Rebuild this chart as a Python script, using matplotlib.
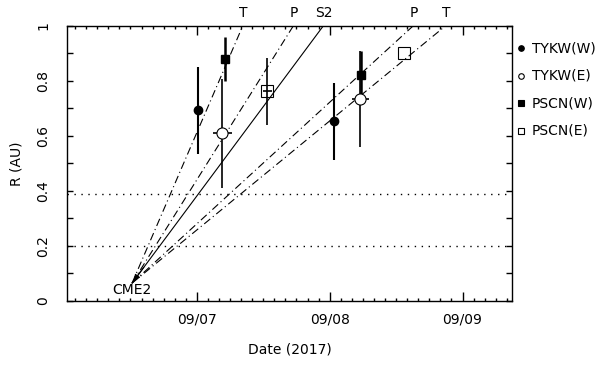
import matplotlib
matplotlib.use('Agg')
import matplotlib.pyplot as plt
from matplotlib.ticker import MultipleLocator

# x = days since 2017-09-06 00:00, y = R (AU)
tykw_w_x = [1.007, 2.033]
tykw_w_r = [0.692, 0.653]
tykw_w_lo = [0.535, 0.513]
tykw_w_hi = [0.849, 0.791]

tykw_e_x = [1.192, 2.231]
tykw_e_r = [0.611, 0.733]
tykw_e_lo = [0.412, 0.559]
tykw_e_hi = [0.807, 0.909]
tykw_e_dx = [0.069, 0.066]

pscn_w_x = [1.215, 2.236]
pscn_w_r = [0.879, 0.822]
pscn_w_lo = [0.798, 0.736]
pscn_w_hi = [0.960, 0.909]

pscn_e_x = [1.531, 2.562]
pscn_e_r = [0.761, 0.900]
pscn_e_lo = [0.638, 0.900]
pscn_e_hi = [0.883, 0.900]
pscn_e_dx = [0.035, 0.0]

# CME2 launch point and where each fitted line hits 1 AU
cme_x, cme_r = 0.512, 0.065
fit_names = ['T', 'P', 'S2', 'P', 'T']
fit_top_x = [1.346, 1.727, 1.953, 2.630, 2.874]

planet_r = [0.39, 0.20]
day_ticks = [1, 2, 3]
day_labels = ['09/07', '09/08', '09/09']

fig = plt.figure(figsize=(5.99, 3.69), dpi=100)
ax = fig.add_axes([0.1114, 0.1843, 0.7439, 0.7461])

dashdot = (0, (7, 3, 1, 3))
for name, xt in zip(fit_names, fit_top_x):
    ls = '-' if name == 'S2' else dashdot
    ax.plot([cme_x, xt], [cme_r, 1.0], color='black', lw=0.8, ls=ls)
    ax.text(xt, 1.045, name, transform=ax.get_xaxis_transform(),
            ha='center', va='center', fontsize=10)

# little arrow at the launch point
ax.annotate('', xy=(cme_x, cme_r),
            xytext=(cme_x + 0.07 * (fit_top_x[2] - cme_x), cme_r + 0.07 * (1 - cme_r)),
            arrowprops=dict(arrowstyle='-|>', color='black', lw=0.8, mutation_scale=9))
ax.text(cme_x, 0.04, 'CME2', ha='center', va='center', fontsize=10)

for r in planet_r:
    ax.axhline(r, color='black', lw=1.0, ls=(0, (1, 4)))

def bars(x, r, lo, hi):
    return [ri - l for ri, l in zip(r, lo)], [h - ri for ri, h in zip(r, hi)]

lo, hi = bars(tykw_w_x, tykw_w_r, tykw_w_lo, tykw_w_hi)
ax.errorbar(tykw_w_x, tykw_w_r, yerr=[lo, hi], fmt='o', color='black', ms=6,
            elinewidth=1.5, capsize=0)
lo, hi = bars(tykw_e_x, tykw_e_r, tykw_e_lo, tykw_e_hi)
ax.errorbar(tykw_e_x, tykw_e_r, yerr=[lo, hi], xerr=tykw_e_dx, fmt='o', color='black',
            mfc='white', ms=8, mew=0.8, elinewidth=1.2, capsize=0)
lo, hi = bars(pscn_w_x, pscn_w_r, pscn_w_lo, pscn_w_hi)
ax.errorbar(pscn_w_x, pscn_w_r, yerr=[lo, hi], fmt='s', color='black', ms=6,
            elinewidth=1.8, capsize=0)
lo, hi = bars(pscn_e_x, pscn_e_r, pscn_e_lo, pscn_e_hi)
ax.errorbar(pscn_e_x, pscn_e_r, yerr=[lo, hi], xerr=pscn_e_dx, fmt='s', color='black',
            mfc='none', ms=9, mew=0.8, elinewidth=1.2, capsize=0)

# legend outside on the right
leg = [('o', 'black', 'TYKW(W)'), ('o', 'white', 'TYKW(E)'),
       ('s', 'black', 'PSCN(W)'), ('s', 'white', 'PSCN(E)')]
for i, (m, fc, lab) in enumerate(leg):
    yy = 0.918 - i * 0.1
    ax.plot([1.019], [yy], marker=m, mfc=fc, mec='black', mew=0.8, ms=4,
            transform=ax.transAxes, clip_on=False, ls='none')
    ax.text(1.0435, yy, lab, transform=ax.transAxes, ha='left', va='center', fontsize=10)

ax.set_xlim(0.02, 3.375)
ax.set_ylim(0, 1)
ax.set_xticks(day_ticks)
ax.set_xticklabels(day_labels)
ax.xaxis.set_minor_locator(MultipleLocator(1 / 12))
ax.set_yticks([0, 0.2, 0.4, 0.6, 0.8, 1.0])
ax.set_yticklabels(['0', '0.2', '0.4', '0.6', '0.8', '1'], rotation=90, va='center')
ax.yaxis.set_minor_locator(MultipleLocator(0.1))
ax.tick_params(which='both', direction='in', top=True, right=True, labelsize=10, width=1)
ax.tick_params(axis='x', which='major', length=6.5, pad=8)
ax.tick_params(axis='x', which='minor', length=2.5)
ax.tick_params(axis='y', which='both', length=4.5, pad=12)
for s in ax.spines.values():
    s.set_linewidth(1.0)

ax.set_xlabel('Date (2017)', fontsize=10, labelpad=12)
ax.set_ylabel('R (AU)', fontsize=10, labelpad=9)

fig.savefig('out.png', dpi=100)
